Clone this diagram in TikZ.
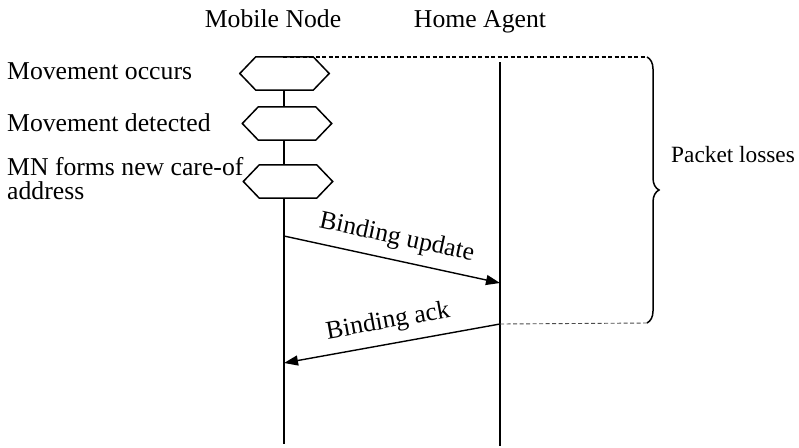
\documentclass[tikz,border=0pt]{standalone}
\usepackage{fontspec}
\setmainfont{Liberation Serif}
\usetikzlibrary{arrows.meta,decorations.pathreplacing}
\begin{document}
\begin{tikzpicture}[x=1pt,y=-1pt,
  every node/.style={font=\fontsize{25.7}{24}\selectfont},
  lbl/.style={inner sep=0pt},
  hexbox/.style={draw=none,minimum width=89pt,minimum height=33pt,inner sep=0pt},
  hexline/.style={line width=1.5pt,fill=white,line join=miter},
  life/.style={line width=1.5pt},
  msg/.style={line width=1.4pt,-{Triangle[length=14pt,width=10pt]}},
  msglbl/.style={inner sep=2pt,midway,sloped,above=8pt},
  guide/.style={line width=1.1pt,dash pattern=on 4pt off 2.5pt}]
\useasboundingbox (0,0) rectangle (799,447);

% column headings
\node[lbl,anchor=base] (mnhead) at (273,27) {Mobile Node};
\node[lbl,anchor=base] (hahead) at (480,27) {Home Agent};

% lifeline end points
\coordinate (mntop) at (284,90);
\coordinate (mnbot) at (284,444);
\coordinate (hatop) at (500,62);
\coordinate (habot) at (500,446);

% events on the mobile node
\node[hexbox] (h1) at (284.5,73.5) {};
\node[hexbox] (h2) at (287,123.5) {};
\node[hexbox] (h3) at (288,181.5) {};

\draw[life] (mntop) -- (mnbot);
\draw[life] (hatop) -- (habot);

\foreach \h in {h1,h2,h3}{
  \draw[hexline] (\h.west) -- ([xshift=16pt]\h.north west) -- ([xshift=-16pt]\h.north east)
    -- (\h.east) -- ([xshift=-16pt]\h.south east) -- ([xshift=16pt]\h.south west) -- cycle;
}

% event labels
\node[lbl,anchor=base west] (ev1) at (7,79) {Movement occurs};
\node[lbl,anchor=base west] (ev2) at (7,131) {Movement detected};
\node[lbl,anchor=base west,align=left] (ev3) at (7,199) {MN forms new care-of\\address};

% messages
\coordinate (bu1) at (284,236);
\coordinate (bu2) at (500,283);
\coordinate (ba1) at (500,324);
\coordinate (ba2) at (284,363);
\draw[msg] (bu1) -- (bu2);
\draw[msg] (ba1) -- (ba2);
\path (bu1) -- (bu2) node[msglbl] (bulbl) {Binding update};
\path (ba2) -- (ba1) node[msglbl] (balbl) {Binding ack};

% interval of packet losses
\coordinate (lt) at (283,57);
\coordinate (lte) at (645,57);
\coordinate (lbe) at (648,323);
\draw[guide] (lt) -- (lte);
\draw[guide,black!70,line width=0.9pt] (ba1) -- (lbe);
\draw[line width=1.5pt,decorate,decoration={brace,amplitude=12pt}] (647,57) -- (647,323)
  coordinate[midway] (bmid);
\node[lbl,anchor=base west,font=\fontsize{23.3}{24}\selectfont] (loss) at (671,162) {Packet losses};
\end{tikzpicture}
\end{document}
